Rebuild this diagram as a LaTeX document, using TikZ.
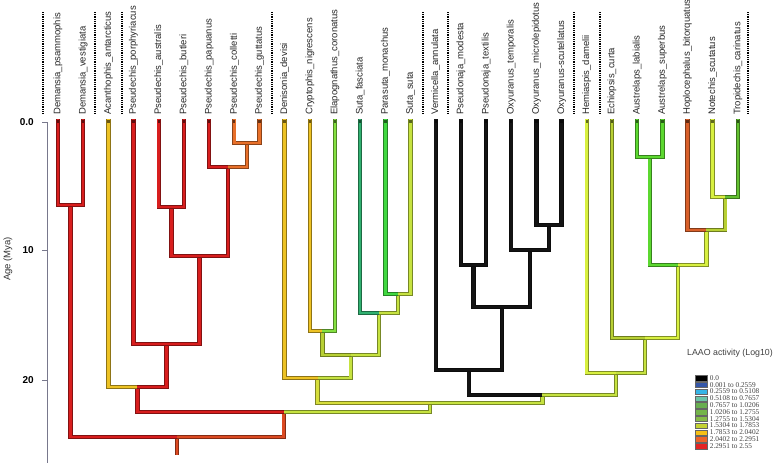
\documentclass[tikz,border=0pt]{standalone}
\usepackage{fontspec}
\setmainfont{Liberation Sans}
\newfontfamily\legfont{Liberation Serif}
\usepackage{xcolor}
\usepackage{tikz}
\usetikzlibrary{positioning, calc}

% colores de ramas
\definecolor{cRed}{HTML}{D81E1E}
\definecolor{cOra}{HTML}{E8702A}
\definecolor{cRO}{HTML}{DC4A22}
\definecolor{cGold}{HTML}{EDC224}
\definecolor{cYel}{HTML}{D6DE3C}
\definecolor{cYG}{HTML}{C6E240}
\definecolor{cLime}{HTML}{D8F040}
\definecolor{cOli}{HTML}{B8D034}
\definecolor{cGrn}{HTML}{5CD830}
\definecolor{cGrn2}{HTML}{62C030}
\definecolor{cLGrn}{HTML}{84E040}
\definecolor{cTeal}{HTML}{30B070}
\definecolor{cBGrn}{HTML}{40D840}
\definecolor{cBlk}{HTML}{141414}
\definecolor{cHop}{HTML}{D8602A}
% colores de leyenda
\definecolor{k0}{HTML}{000000}
\definecolor{k1}{HTML}{3456A8}
\definecolor{k2}{HTML}{36B4E6}
\definecolor{k3}{HTML}{6CC4A8}
\definecolor{k4}{HTML}{68AE50}
\definecolor{k5}{HTML}{74B44A}
\definecolor{k6}{HTML}{86BC48}
\definecolor{k7}{HTML}{C4D234}
\definecolor{k8}{HTML}{F6C014}
\definecolor{k9}{HTML}{EE6428}
\definecolor{k10}{HTML}{E42424}

\tikzstyle{tipbox} = [rectangle, inner sep=0pt, minimum width=2.4pt, minimum height=3pt]
\tikzstyle{lab} = [rotate=90, anchor=west, inner sep=0pt, text=black!85, font=\fontsize{9.5}{10}\selectfont]
\tikzstyle{sep} = [line width=1.4pt, dash pattern=on 0.9pt off 0.9pt]
\tikzstyle{ax} = [draw={rgb,255:red,120;green,120;blue,140}, line width=0.7pt]
\tikzstyle{ticklab} = [anchor=east, inner sep=0pt, font=\bfseries\fontsize{10}{12}\selectfont]
\tikzstyle{swatch} = [rectangle, draw=black!60, line width=0.3pt, minimum width=12pt, minimum height=5.4pt, inner sep=0pt]
\tikzstyle{legtxt} = [inner sep=0pt, text=black!75, font=\legfont\fontsize{7.3}{8}\selectfont]
\tikzset{br/.style={line width=0.9pt, double distance=2.6pt, draw=#1!60!black, double=#1}}

\begin{document}
\begin{tikzpicture}[x=1pt, y=-1pt, line join=miter]
    \useasboundingbox (0,0) rectangle (778,466);

    % Nodos internos
    \coordinate (nDem) at (70.59,205);
    \coordinate (nP1) at (246.85,143);
    \coordinate (nP2) at (227.97,167);
    \coordinate (nP3) at (171.31,207);
    \coordinate (nP4) at (199.64,256);
    \coordinate (nP5) at (166.59,344);
    \coordinate (nP6) at (137.48,387);
    \coordinate (nCE) at (322.39,331);
    \coordinate (nSS) at (397.93,294);
    \coordinate (nSF) at (379.05,313);
    \coordinate (nCS) at (350.72,355);
    \coordinate (nDe) at (317.67,378);
    \coordinate (nPs) at (473.47,265);
    \coordinate (nOx2) at (549.01,225);
    \coordinate (nOx) at (530.13,250);
    \coordinate (nPO) at (501.8,307);
    \coordinate (nVe) at (468.75,370);
    \coordinate (nAu) at (649.73,157);
    \coordinate (nTN) at (725.27,197);
    \coordinate (nHo) at (706.39,230);
    \coordinate (nAH) at (678.06,265);
    \coordinate (nEc) at (645.01,338);
    \coordinate (nHe) at (615.9,373);
    \coordinate (nC) at (542.33,395);
    \coordinate (nB) at (430,403);
    \coordinate (nA) at (283.74,412);
    \coordinate (root) at (177.17,437);
    \coordinate (rootstub) at (177.17,455);

    % Ramas internas
    \draw [br=cRO] (root) -- (rootstub);
    \draw [br=cRed] (nDem) |- (root);
    \draw [br=cRO] (nA) |- (root);
    \draw [br=cRed] (nP6) |- (nA);
    \draw [br=cYG] (nB) |- (nA);
    \draw [br=cRed] (nP5) |- (nP6);
    \draw [br=cRed] (nP4) |- (nP5);
    \draw [br=cRed] (nP3) |- (nP4);
    \draw [br=cRed] (nP2) |- (nP4);
    \draw [br=cOra] (nP1) |- (nP2);
    \draw [br=cYel] (nDe) |- (nB);
    \draw [br=cYG] (nCS) |- (nDe);
    \draw [br=cOli] (nCE) |- (nCS);
    \draw [br=cYG] (nSF) |- (nCS);
    \draw [br=cYG] (nSS) |- (nSF);
    \draw [br=cYG] (nC) |- (nB);
    \draw [br=cBlk] (nVe) |- (nC);
    \draw [br=cBlk] (nPO) |- (nVe);
    \draw [br=cBlk] (nPs) |- (nPO);
    \draw [br=cBlk] (nOx) |- (nPO);
    \draw [br=cBlk] (nOx2) |- (nOx);
    \draw [br=cYG] (nHe) |- (nC);
    \draw [br=cYG] (nEc) |- (nHe);
    \draw [br=cLime] (nAH) |- (nEc);
    \draw [br=cGrn] (nAu) |- (nAH);
    \draw [br=cLime] (nHo) |- (nAH);
    \draw [br=cOli] (nTN) |- (nHo);

    % Puntas y nombres
    \foreach \i/\nm/\c/\p in {1/Demansia\_psammophis/cRed/nDem, 2/Demansia\_vestigiata/cRed/nDem,
        3/Acanthophis\_antarcticus/cGold/nP6, 4/Pseudechis\_porphyriacus/cRed/nP5,
        5/Pseudechis\_australis/cRed/nP3, 6/Pseudechis\_butleri/cRed/nP3,
        7/Pseudechis\_papuanus/cRed/nP2, 8/Pseudechis\_colletti/cOra/nP1,
        9/Pseudechis\_guttatus/cOra/nP1, 10/Denisonia\_devisi/cGold/nDe,
        11/Cryptophis\_nigrescens/cGold/nCE, 12/Elapognathus\_coronatus/cLGrn/nCE,
        13/Suta\_fasciata/cTeal/nSF, 14/Parasuta\_monachus/cBGrn/nSS,
        15/Suta\_suta/cYG/nSS, 16/Vermicella\_annulata/cBlk/nVe,
        17/Pseudonaja\_modesta/cBlk/nPs, 18/Pseudonaja\_textilis/cBlk/nPs,
        19/Oxyuranus\_temporalis/cBlk/nOx, 20/Oxyuranus\_microlepidotus/cBlk/nOx2,
        21/Oxyuranus-scutellatus/cBlk/nOx2, 22/Hemiaspis\_damelii/cLime/nHe,
        23/Echiopsis\_curta/cOli/nEc, 24/Austrelaps\_labialis/cGrn/nAu,
        25/Austrelaps\_superbus/cGrn/nAu, 26/Hoplocephalus\_bitorquatus/cHop/nHo,
        27/Notechis\_scutatus/cLime/nTN, 28/Tropidechis\_carinatus/cGrn2/nTN} {
        \node (t\i) [tipbox] at ({58+25.18*(\i-1)},121) {};
        \draw [br=\c] (t\i.north) |- (\p);
        \node (t\i m) [tipbox, fill=\c!45!black] at (t\i) {};
        \node (l\i) [lab] at ({58+25.18*(\i-1)},115) {\nm};
    }

    % Separadores
    \foreach \sx in {43, 95, 122, 272, 423, 448, 574, 600, 748}
        \draw [sep] (\sx,12) -- (\sx,114);

    % Eje
    \coordinate (a0) at (47,122);
    \coordinate (a1) at (47,463);
    \draw [ax] (a0) -- (a1);
    \foreach \k/\v/\yy in {0/0.0/122, 1/10/250, 2/20/380} {
        \draw [ax] (42,\yy) -- (47,\yy);
        \node (tk\k) [ticklab] at (34,\yy) {\v};
    }
    \node (agelab) [rotate=90, text=black!80, font=\fontsize{9.5}{11}\selectfont] at (8,259) {Age (Mya)};

    % Leyenda
    \node (legtitle) [anchor=west, inner sep=0pt, text=black!75, font=\fontsize{8.8}{10}\selectfont] at (687,353) {LAAO activity (Log10)};
    \foreach \k/\t in {0/0.0, 1/0.001 to 0.2559, 2/0.2559 to 0.5108, 3/0.5108 to 0.7657,
        4/0.7657 to 1.0206, 5/1.0206 to 1.2755, 6/1.2755 to 1.5304, 7/1.5304 to 1.7853,
        8/1.7853 to 2.0402, 9/2.0402 to 2.2951, 10/2.2951 to 2.55} {
        \node (sw\k) [swatch, fill=k\k] at (701,{378+6.8*\k}) {};
        \node (lt\k) [legtxt, right=2.5pt of sw\k] {\t};
    }
\end{tikzpicture}
\end{document}
